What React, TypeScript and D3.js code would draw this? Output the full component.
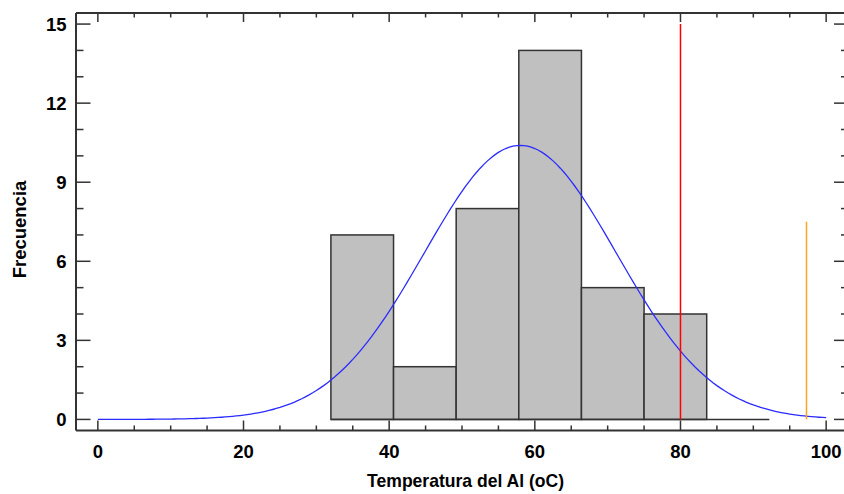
import React from "react";
import * as d3 from "d3";

// Histogram of aluminium temperature readings
const binEdges = [32.0, 40.6, 49.2, 57.8, 66.4, 75.0, 83.6, 92.2];
const binCounts = [7, 2, 8, 14, 5, 4, 0];

// Fitted normal distribution parameters
const fitMean = 58.0;
const fitSd = 13.2;

// Specification / reference lines
const limitValues = [80, 97.3];
const limitHeights = [15, 7.5];

const xTicks = [0, 20, 40, 60, 80, 100];
const yTicks = [0, 3, 6, 9, 12, 15];

const xTitle = "Temperatura del Al (oC)";
const yTitle = "Frecuencia";

const W = 844;
const H = 494;
const frame = { left: 76, right: 848, top: 13, bottom: 430.5 };
const limitColors = ["#ff0000", "#ffa21f"];
const axisColor = "#333333";
const font = "'Liberation Sans', Arial, sans-serif";

export default function App() {
  const x = d3.scaleLinear().domain([-3, 103]).range([frame.left, frame.right]);
  const y = d3.scaleLinear().domain([-0.42, 15.42]).range([frame.bottom, frame.top]);

  const total = d3.sum(binCounts);
  const binWidth = binEdges[1] - binEdges[0];
  const pdfScale = (total * binWidth) / (fitSd * Math.sqrt(2 * Math.PI));
  const curvePts: [number, number][] = d3.range(0, 100.001, 0.5).map((v) => [
    v,
    pdfScale * Math.exp(-((v - fitMean) ** 2) / (2 * fitSd * fitSd)),
  ]);
  const line = d3
    .line<[number, number]>()
    .x((d) => x(d[0]))
    .y((d) => y(d[1]));

  const xMinor = d3.range(-0, 101, 5);
  const yMinor = d3.range(0, 16, 1);

  return (
    <svg
      width={W}
      height={H}
      style={{ position: "absolute", left: 0, top: 0, background: "#fff" }}
    >
      {/* bars */}
      {binCounts.map((c, i) =>
        c > 0 ? (
          <rect
            key={i}
            x={x(binEdges[i])}
            y={y(c)}
            width={x(binEdges[i + 1]) - x(binEdges[i])}
            height={y(0) - y(c)}
            fill="#c0c0c0"
            stroke={axisColor}
            strokeWidth={1.5}
          />
        ) : null
      )}
      {/* histogram baseline */}
      <line
        x1={x(binEdges[0])}
        x2={x(binEdges[binEdges.length - 1])}
        y1={y(0)}
        y2={y(0)}
        stroke={axisColor}
        strokeWidth={1.5}
      />
      {/* fitted normal curve */}
      <path d={line(curvePts) || ""} fill="none" stroke="#2b2bff" strokeWidth={1.3} />
      {/* limit lines */}
      {limitValues.map((v, i) => (
        <line
          key={i}
          x1={x(v)}
          x2={x(v)}
          y1={y(0)}
          y2={y(limitHeights[i])}
          stroke={limitColors[i]}
          strokeWidth={1.5}
        />
      ))}
      {/* frame */}
      <line x1={frame.left} x2={frame.left} y1={frame.top} y2={frame.bottom} stroke={axisColor} strokeWidth={2} />
      <line x1={frame.right} x2={frame.right} y1={frame.top} y2={frame.bottom} stroke={axisColor} strokeWidth={2} />
      <line x1={frame.left} x2={frame.right} y1={frame.top} y2={frame.top} stroke={axisColor} strokeWidth={2} />
      <line x1={frame.left} x2={frame.right} y1={frame.bottom} y2={frame.bottom} stroke={axisColor} strokeWidth={2} />
      {/* x ticks, bottom and top */}
      {xMinor.map((v) => {
        const major = v % 20 === 0;
        const len = major ? 10 : 5;
        return (
          <g key={"xt" + v}>
            <line x1={x(v)} x2={x(v)} y1={frame.bottom} y2={frame.bottom - len} stroke={axisColor} strokeWidth={1.5} />
            <line x1={x(v)} x2={x(v)} y1={frame.top} y2={frame.top + (major ? 9 : 4.5)} stroke={axisColor} strokeWidth={1.5} />
          </g>
        );
      })}
      {/* y ticks, left and right */}
      {yMinor.map((v) => {
        const major = v % 3 === 0;
        return (
          <g key={"yt" + v}>
            <line x1={frame.left} x2={frame.left + (major ? 14.5 : 7.5)} y1={y(v)} y2={y(v)} stroke={axisColor} strokeWidth={1.5} />
            <line x1={frame.right} x2={frame.right - (major ? 14 : 7)} y1={y(v)} y2={y(v)} stroke={axisColor} strokeWidth={1.5} />
          </g>
        );
      })}
      {/* tick labels */}
      {xTicks.map((v) => (
        <text
          key={"xl" + v}
          x={x(v)}
          y={458}
          textAnchor="middle"
          fontFamily={font}
          fontWeight="bold"
          fontSize={18.5}
          fill="#000"
        >
          {v}
        </text>
      ))}
      {yTicks.map((v) => (
        <text
          key={"yl" + v}
          x={66.5}
          y={y(v) + 6.5}
          textAnchor="end"
          fontFamily={font}
          fontWeight="bold"
          fontSize={18.5}
          fill="#000"
        >
          {v}
        </text>
      ))}
      {/* axis titles */}
      <text
        x={465.6}
        y={486.5}
        textAnchor="middle"
        fontFamily={font}
        fontWeight="bold"
        fontSize={18.6}
        textLength={197}
        lengthAdjust="spacingAndGlyphs"
        fill="#000"
      >
        {xTitle}
      </text>
      <text
        transform={`translate(25.5, 229.5) rotate(-90)`}
        textAnchor="middle"
        fontFamily={font}
        fontWeight="bold"
        fontSize={18.5}
        fill="#000"
      >
        {yTitle}
      </text>
    </svg>
  );
}
